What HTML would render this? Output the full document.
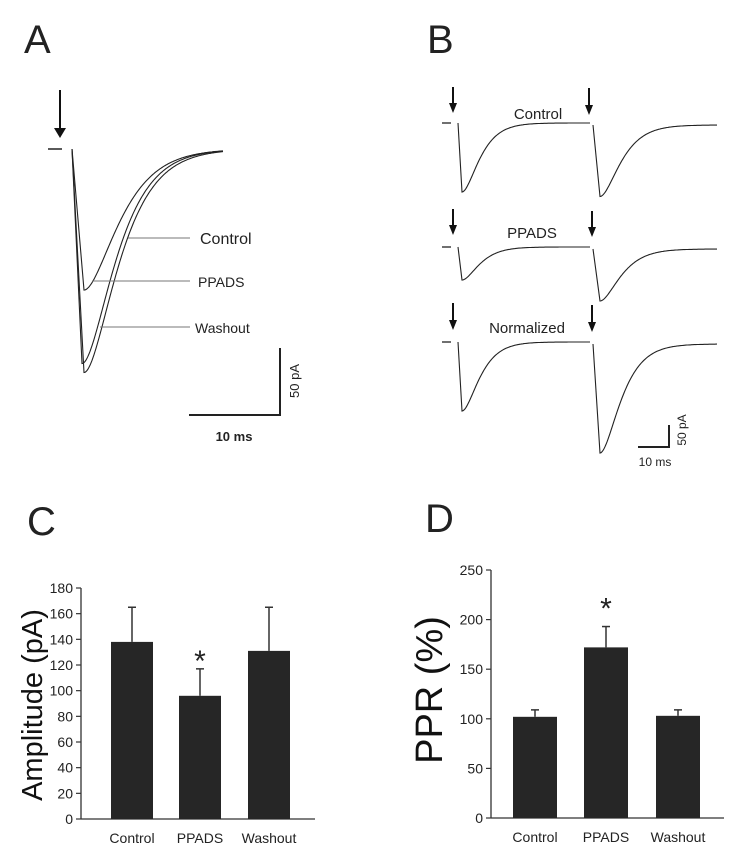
<!DOCTYPE html>
<html><head><meta charset="utf-8"><style>
body{margin:0;background:#fff;width:750px;height:857px;overflow:hidden}
svg{display:block;font-family:"Liberation Sans",sans-serif}
</style></head><body>
<svg id="fig" width="750" height="857" viewBox="0 0 750 857">
<g fill="#222" font-size="40">
<text x="24" y="53">A</text>
<text x="427" y="53">B</text>
<text x="27" y="535">C</text>
<text x="425" y="532">D</text>
</g>
<g id="pa"></g>
<g id="pb"></g>
<g id="pc"></g>
<g id="pd"></g>
</svg>
<script>
// Panel C data
const cCategories = ["Control","PPADS","Washout"];
const cValues = [138, 96, 131];
const cErrors = [27, 21, 34];
const cTicks = [0,20,40,60,80,100,120,140,160,180];
// Panel D data
const dCategories = ["Control","PPADS","Washout"];
const dValues = [102, 172, 103];
const dErrors = [7, 21, 6];
const dTicks = [0,50,100,150,200,250];
// Panel A peak amplitudes (pA)
const aSeries = ["Control","PPADS","Washout"];
const aPeaks = [94, 143, 149];
// Panel B peak amplitudes (pA): [pulse1, pulse2]
const bRows = ["Control","PPADS","Normalized"];
const bPulse1 = [46, 22, 46];
const bPulse2 = [49, 36, 74];

const NS="http://www.w3.org/2000/svg";
function mk(tag,attrs,parent){const e=document.createElementNS(NS,tag);for(const k in attrs)e.setAttribute(k,attrs[k]);parent.appendChild(e);return e;}

function barChart(g,cats,vals,errs,ticks,ax){
  const y=v=>ax.y0-(v-ticks[0])/(ticks[ticks.length-1]-ticks[0])*(ax.y0-ax.y1);
  const yl=mk('line',{x1:ax.x,y1:ax.y1,x2:ax.x,y2:ax.y0,stroke:'#333','stroke-width':1.3},g);
  
  
  const xl=mk('line',{x1:ax.x,y1:ax.y0,x2:ax.xe,y2:ax.y0,stroke:'#333','stroke-width':1.3},g);
  
  
  ticks.forEach(t=>{
    const tk=mk('line',{x1:ax.x-5,y1:y(t),x2:ax.x,y2:y(t),stroke:'#333','stroke-width':1.2},g);
    
    
    const tl=mk('text',{x:ax.x-8,y:y(t)+5,'text-anchor':'end','font-size':ax.fs,fill:'#222'},g);
    tl.textContent=t;
    
    
  });
  cats.forEach((c,i)=>{
    const bx=ax.bx[i];
    const top=y(vals[i]), et=y(vals[i]+errs[i]);
    const el=mk('line',{x1:bx+ax.bw/2,y1:top,x2:bx+ax.bw/2,y2:et,stroke:'#333','stroke-width':1.5},g);
    
    
    const ec=mk('line',{x1:bx+ax.bw/2-4,y1:et,x2:bx+ax.bw/2+4,y2:et,stroke:'#333','stroke-width':1.5},g);
    
    
    const r=mk('rect',{x:bx,y:top,width:ax.bw,height:ax.y0-top,fill:'#262626'},g);
    
    
    const xt=mk('text',{x:bx+ax.bw/2,y:ax.y0+24,'text-anchor':'middle','font-size':ax.fs,fill:'#222'},g);
    xt.textContent=c;
    
    
  });
  const st=mk('text',{x:ax.bx[1]+ax.bw/2,y:y(vals[1]+errs[1])-ax.sg,'text-anchor':'middle','font-size':30,fill:'#222'},g);
  st.textContent='*';
  
  
  const tt=mk('text',{x:0,y:0,'text-anchor':'middle','font-size':ax.tfs,fill:'#111',transform:`translate(${ax.tx},${ax.ty}) rotate(-90)`},g);
  tt.textContent=ax.title;
  
  
}
barChart(document.getElementById('pc'),cCategories,cValues,cErrors,cTicks,
 {x:81,y0:819,y1:588,xe:315,bx:[111,179,248],bw:42,fs:14,title:'Amplitude (pA)',tx:42,ty:705,tfs:29,sg:-2});
barChart(document.getElementById('pd'),dCategories,dValues,dErrors,dTicks,
 {x:491,y0:818,y1:570,xe:724,bx:[513,584,656],bw:44,fs:14,title:'PPR (%)',tx:442,ty:690,tfs:38,sg:8});

function wave(g,x0,y0,xp,ypx,xend,tau,name,sw){
  let d=`M${x0},${y0} L${xp},${ypx}`;
  for(let x=xp+1;x<=xend;x+=1){const u=(x-xp)/tau;const f=(1+u)*Math.exp(-u);d+=` L${x},${(y0+(ypx-y0)*f).toFixed(1)}`;}
  const p=mk('path',{d,fill:'none',stroke:'#222','stroke-width':sw||1.2},g);
  
  
}
function arrow(g,x,y1,y2,name,w){
  const l=mk('line',{x1:x,y1:y1,x2:x,y2:y2-8,stroke:'#111','stroke-width':2},g);
  
  
  const h=mk('polygon',{points:`${x-w},${y2-10} ${x+w},${y2-10} ${x},${y2}`,fill:'#111'},g);
  
  
}
function txt(g,x,y,s,fs,name,anchor,extra){
  const t=mk('text',Object.assign({x,y,'font-size':fs,fill:'#222','text-anchor':anchor||'start'},extra||{}),g);
  t.textContent=s;
  
  
  return t;
}
// Panel A
(function(){
  const g=document.getElementById('pa');
  const y0=149, pxPerPA=1.5;
  arrow(g,60,90,138,'stimulus-arrow',6);
  const bl=mk('line',{x1:48,y1:y0,x2:62,y2:y0,stroke:'#222','stroke-width':1.5},g);
  
  
  const peakX=[84,82,84], taus=[22,21,21.5];
  aSeries.forEach((s,i)=>wave(g,72,y0,peakX[i],y0+aPeaks[i]*pxPerPA,223,taus[i],'trace-'+s.toLowerCase(),1.1));
  const lines=[[128,238,190,'Control',200],[92,281,190,'PPADS',198],[100,327,190,'Washout',195]];
  lines.forEach(l=>{
    const ln=mk('line',{x1:l[0],y1:l[1],x2:l[2],y2:l[1],stroke:'#777','stroke-width':1},g);
    
    
    txt(g,l[4],l[1]+6,l[3],l[3]==='Control'?16:14,'label-'+l[3].toLowerCase());
  });
  const sb=mk('path',{d:'M189,415 L280,415 L280,348',fill:'none',stroke:'#222','stroke-width':2},g);
  
  
  txt(g,234,441,'10 ms',13,'scale-bar-time','middle',{'font-weight':'bold'});
  txt(g,0,0,'50 pA',13,'scale-bar-current','middle',{transform:'translate(299,381) rotate(-90)'});
})();
// Panel B
(function(){
  const g=document.getElementById('pb');
  const rowY=[123,247,342], pxPerPA=1.5;
  const lblX=[538,532,527], lblY=[119,238,333];
  const arrTop=[[87,88],[209,211],[303,305]], arrBot=[[113,115],[235,237],[330,332]];
  const a2x=[589,592,592];
  bRows.forEach((r,i)=>{
    const y0=rowY[i];
    const bl=mk('line',{x1:442,y1:y0,x2:451,y2:y0,stroke:'#222','stroke-width':1.3},g);
    
    
    arrow(g,453,arrTop[i][0],arrBot[i][0],'stimulus-arrow-1',4);
    arrow(g,a2x[i],arrTop[i][1],arrBot[i][1],'stimulus-arrow-2',4);
    wave(g,458,y0,462,y0+bPulse1[i]*pxPerPA,590,11,'trace-'+r.toLowerCase()+'-pulse-1',1.1);
    wave(g,593,y0+2,600,y0+bPulse2[i]*pxPerPA,717,13,'trace-'+r.toLowerCase()+'-pulse-2',1.1);
    txt(g,lblX[i],lblY[i],r,15,'label-'+r.toLowerCase(),'middle');
  });
  const sb=mk('path',{d:'M638,447 L669,447 L669,425',fill:'none',stroke:'#222','stroke-width':2},g);
  
  
  txt(g,655,466,'10 ms',12,'scale-bar-time','middle');
  txt(g,0,0,'50 pA',12,'scale-bar-current','middle',{transform:'translate(686,430) rotate(-90)'});
})();
</script>
</body></html>
